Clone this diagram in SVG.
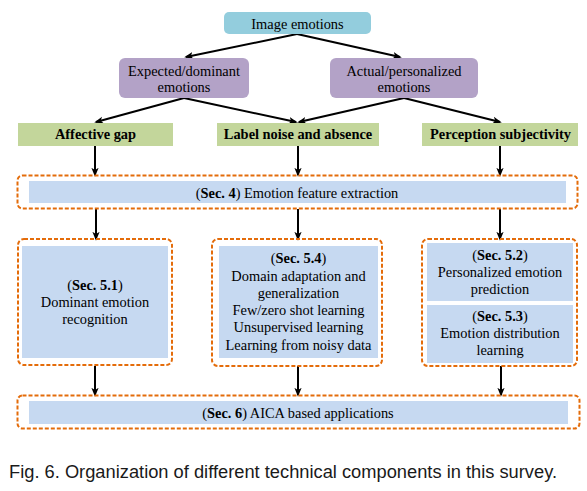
<svg xmlns="http://www.w3.org/2000/svg" width="587" height="491" viewBox="0 0 587 491">
<defs>
<style>
.t{font-family:"Liberation Serif","Times New Roman",serif;font-size:14.4px;fill:#000;text-anchor:middle}
.b{font-weight:bold}
.dash{fill:none;stroke:#E46C0A;stroke-width:2;stroke-dasharray:4 2}
.inner{fill:#C6D9F1}
.green{fill:#C3D69B}
.purple{fill:#B3A2C7}
.top{fill:#93CDDD}
.conn{stroke:#000;stroke-width:2;fill:none;marker-end:url(#ah)}
.cap{font-family:"Liberation Sans",Arial,sans-serif;font-size:18.3px;fill:#1a1a1a}
</style>
<marker id="ah" markerUnits="userSpaceOnUse" markerWidth="9" markerHeight="9" viewBox="0 0 10 10" refX="8" refY="5" orient="auto">
<path d="M0,1 L10,5 L0,9 L2.5,5 z" fill="#000"/>
</marker>
</defs>
<rect width="587" height="491" fill="#fff"/>

<g id="connectors">
<path class="conn" d="M297,34 L186,57"/>
<path class="conn" d="M297,34 L400,57"/>
<path class="conn" d="M184,98 L96,122"/>
<path class="conn" d="M184,98 L296,122"/>
<path class="conn" d="M404,98 L299,122"/>
<path class="conn" d="M404,98 L500,122"/>
<path class="conn" d="M95,146 L95,175"/>
<path class="conn" d="M298,146 L298,175"/>
<path class="conn" d="M500,146 L500,175"/>
<path class="conn" d="M96,209 L96,239"/>
<path class="conn" d="M298,209 L298,239"/>
<path class="conn" d="M500,209 L500,239"/>
<path class="conn" d="M95,366 L95,395"/>
<path class="conn" d="M298,366 L298,395"/>
<path class="conn" d="M501,366 L501,395"/>
</g>

<g id="image-emotions">
<rect class="top" x="224" y="12" width="147" height="22" rx="5"/>
<text class="t" x="297.5" y="29">Image emotions</text>
</g>

<g id="expected-dominant">
<rect class="purple" x="119" y="58" width="130" height="40" rx="6"/>
<text class="t" x="184" y="76">Expected/dominant</text>
<text class="t" x="184" y="92">emotions</text>
</g>

<g id="actual-personalized">
<rect class="purple" x="330" y="58" width="148" height="40" rx="6"/>
<text class="t" x="404" y="76">Actual/personalized</text>
<text class="t" x="404" y="92">emotions</text>
</g>

<g id="affective-gap">
<rect class="green" x="18" y="123" width="155" height="23"/>
<text class="t b" x="95.5" y="139">Affective gap</text>
</g>

<g id="label-noise">
<rect class="green" x="217" y="123" width="162" height="23"/>
<text class="t b" x="298" y="139">Label noise and absence</text>
</g>

<g id="perception">
<rect class="green" x="422" y="123" width="156" height="23"/>
<text class="t b" x="500.5" y="139">Perception subjectivity</text>
</g>

<g id="sec4">
<rect class="dash" x="17.5" y="175.5" width="560" height="33" rx="5"/>
<rect class="inner" x="29" y="181" width="537" height="22"/>
<text class="t" x="297" y="197.5">(<tspan class="b">Sec. 4</tspan>) Emotion feature extraction</text>
</g>

<g id="sec51">
<rect class="dash" x="18" y="239" width="154" height="126" rx="6"/>
<rect class="inner" x="22" y="246" width="146" height="112"/>
<text class="t" x="95" y="290">(<tspan class="b">Sec. 5.1</tspan>)</text>
<text class="t" x="95" y="307">Dominant emotion</text>
<text class="t" x="95" y="324">recognition</text>
</g>

<g id="sec54">
<rect class="dash" x="212" y="239" width="170" height="127" rx="6"/>
<rect class="inner" x="219" y="246" width="159" height="112"/>
<text class="t" x="298.5" y="263">(<tspan class="b">Sec. 5.4</tspan>)</text>
<text class="t" x="298.5" y="280.5">Domain adaptation and</text>
<text class="t" x="298.5" y="298">generalization</text>
<text class="t" x="298.5" y="315">Few/zero shot learning</text>
<text class="t" x="298.5" y="332">Unsupervised learning</text>
<text class="t" x="298.5" y="349.5">Learning from noisy data</text>
</g>

<g id="sec52-53">
<rect class="dash" x="422" y="239" width="155" height="127" rx="6"/>
<rect class="inner" x="427" y="243" width="146" height="58"/>
<text class="t" x="500" y="260">(<tspan class="b">Sec. 5.2</tspan>)</text>
<text class="t" x="500" y="277">Personalized emotion</text>
<text class="t" x="500" y="294">prediction</text>
<rect class="inner" x="427" y="305" width="146" height="58"/>
<text class="t" x="500" y="321">(<tspan class="b">Sec. 5.3</tspan>)</text>
<text class="t" x="500" y="338">Emotion distribution</text>
<text class="t" x="500" y="355">learning</text>
</g>

<g id="sec6">
<rect class="dash" x="17.5" y="395.5" width="562" height="33" rx="5"/>
<rect class="inner" x="29" y="401" width="539" height="23"/>
<text class="t" x="298" y="418">(<tspan class="b">Sec. 6</tspan>) AICA based applications</text>
</g>

<text class="cap" x="9" y="478">Fig. 6. Organization of different technical components in this survey.</text>
</svg>
